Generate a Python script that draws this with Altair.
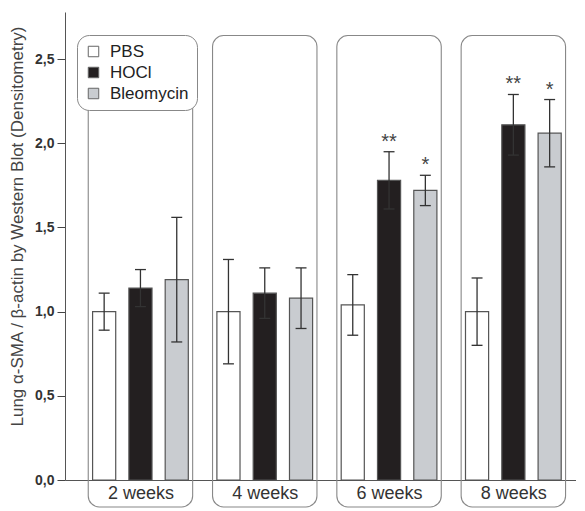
import altair as alt
import pandas as pd

weeks = ["2 weeks", "4 weeks", "6 weeks", "8 weeks"]
treatments = ["PBS", "HOCl", "Bleomycin"]
pbs_mean = [1.00, 1.00, 1.04, 1.00]
pbs_err = [0.11, 0.31, 0.18, 0.20]
hocl_mean = [1.14, 1.11, 1.78, 2.11]
hocl_err = [0.11, 0.15, 0.17, 0.18]
bleo_mean = [1.19, 1.08, 1.72, 2.06]
bleo_err = [0.37, 0.18, 0.09, 0.20]
pbs_sig = ["", "", "", ""]
hocl_sig = ["", "", "**", "**"]
bleo_sig = ["", "", "*", "*"]
y_ticks = [0.0, 0.5, 1.0, 1.5, 2.0, 2.5]
colors = ["#ffffff", "#231f20", "#c9ccd0"]
frame_top = [2.45, 2.64, 2.64, 2.64]
frame_bottom = -0.16

offsets = [-0.292, 0.0, 0.292]
bar_half = 0.093
cap_half = 0.044
frame_half = 0.42

means = [pbs_mean, hocl_mean, bleo_mean]
errs = [pbs_err, hocl_err, bleo_err]
sigs = [pbs_sig, hocl_sig, bleo_sig]

rows = []
for gi, w in enumerate(weeks):
    c = gi + 1
    for ti, t in enumerate(treatments):
        pos = c + offsets[ti]
        m = means[ti][gi]
        e = errs[ti][gi]
        rows.append(dict(week=w, treatment=t, pos=pos, x0=pos - bar_half, x1=pos + bar_half,
                         c0=pos - cap_half, c1=pos + cap_half,
                         mean=m, lo=m - e, hi=m + e, sig=sigs[ti][gi]))
df = pd.DataFrame(rows)

frames = pd.DataFrame(dict(week=weeks,
                           f0=[i + 1 - frame_half for i in range(4)],
                           f1=[i + 1 + frame_half for i in range(4)],
                           top=frame_top,
                           bottom=[frame_bottom] * 4))

xscale = alt.Scale(domain=[0.393, 4.504], nice=False, zero=False)
yscale = alt.Scale(domain=[0, 2.78], nice=False, zero=False)
label_expr = "[" + ",".join("'%s'" % w for w in weeks) + "][datum.value - 1]"

xaxis = alt.Axis(values=[1, 2, 3, 4], labelExpr=label_expr, ticks=False, grid=False,
                 title=None, labelFontSize=18, labelPadding=4, domainColor="#555",
                 labelColor="#333", labelFont="Liberation Sans")
yaxis = alt.Axis(values=y_ticks, labelExpr="replace(format(datum.value, '.1f'), '.', ',')",
                 grid=False, tickSize=8, tickColor="#444", domainColor="#555",
                 labelFontSize=14, labelFontWeight="bold", labelColor="#333",
                 labelFont="Liberation Sans", labelPadding=3,
                 title="Lung α-SMA / β-actin by Western Blot (Densitometry)",
                 titleFontSize=17, titleFontWeight="normal", titleColor="#444",
                 titleFont="Liberation Sans", titlePadding=8, titleY=214)


def X(field):
    return alt.X(field, scale=xscale, axis=xaxis)


def Y(field):
    return alt.Y(field, scale=yscale, axis=yaxis)


frame_layer = alt.Chart(frames).mark_rect(fillOpacity=0, stroke="#888", strokeWidth=1.1,
                                          cornerRadius=11).encode(
    x=X("f0:Q"), x2="f1:Q", y=Y("top:Q"), y2="bottom:Q",
)

bars = alt.Chart(df).mark_rect(stroke="#555", strokeWidth=1.2).encode(
    x=X("x0:Q"), x2="x1:Q", y=Y("mean:Q"), y2=alt.datum(0),
    color=alt.Color("treatment:N", scale=alt.Scale(domain=treatments, range=colors),
                    legend=alt.Legend(title=None, orient="none", legendX=12, legendY=23,
                                      fillColor="white", strokeColor="#888", cornerRadius=12,
                                      padding=8, symbolType="square", symbolSize=110,
                                      symbolStrokeColor="#666", symbolStrokeWidth=1,
                                      symbolOpacity=1,
                                      labelFontSize=17, labelFont="Liberation Sans",
                                      labelColor="#222", rowPadding=3, labelOffset=8)),
)

err = alt.Chart(df).mark_rule(color="#333", strokeWidth=1.3).encode(
    x=X("pos:Q"), y=Y("lo:Q"), y2="hi:Q",
)
cap_hi = alt.Chart(df).mark_rule(color="#333", strokeWidth=1.3).encode(
    x=X("c0:Q"), x2="c1:Q", y=Y("hi:Q"),
)
cap_lo = alt.Chart(df).mark_rule(color="#333", strokeWidth=1.3).encode(
    x=X("c0:Q"), x2="c1:Q", y=Y("lo:Q"),
)
stars = alt.Chart(df).mark_text(fontSize=20, color="#444", baseline="middle",
                                font="Liberation Sans", dy=-10).encode(
    x=X("pos:Q"), y=Y("hi:Q"), text="sig:N",
)

chart = alt.layer(frame_layer, bars, err, cap_hi, cap_lo, stars).properties(
    width=511, height=468,
    padding={"left": 0, "top": 4, "right": 0, "bottom": 0},
).configure_view(stroke=None)

chart.save("out.html", embed_options={"renderer": "svg", "actions": False})
